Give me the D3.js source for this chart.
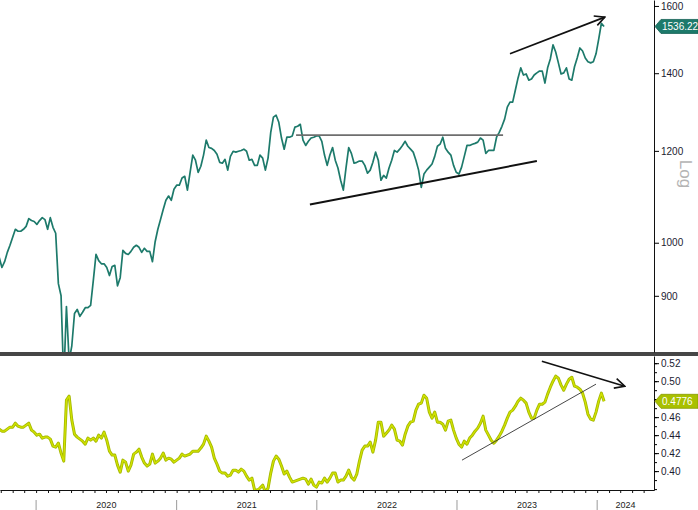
<!DOCTYPE html>
<html>
<head>
<meta charset="utf-8">
<script src="https://cdn.jsdelivr.net/npm/d3@7/dist/d3.min.js"></script>
<style>
  body { margin: 0; background: #fff; }
  svg { display: block; font-family: "Liberation Sans", Arial, sans-serif; }
</style>
</head>
<body>
<svg id="chart" width="698" height="510"></svg>
<script>
// weekly closes, first week below
const firstWeek = "2019-09-27";

const price = [
  971, 952, 963, 981, 995, 1011, 1027, 1023, 1023, 1027,
  1033, 1049, 1045, 1043, 1037, 1045, 1051, 1047, 1027, 1051,
  1031, 1019, 922, 900, 760, 881, 791, 815, 869, 876,
  864, 871, 879, 879, 883, 928, 977, 965, 959, 959,
  952, 937, 954, 956, 918, 933, 985, 979, 977, 983,
  991, 995, 991, 981, 989, 983, 983, 963, 1002, 1027,
  1047, 1068, 1088, 1097, 1088, 1112, 1121, 1121, 1137, 1141,
  1110, 1150, 1190, 1178, 1150, 1164, 1190, 1226, 1208, 1206,
  1201, 1192, 1173, 1171, 1180, 1155, 1187, 1199, 1197, 1199,
  1201, 1204, 1199, 1178, 1180, 1166, 1166, 1190, 1183, 1155,
  1183, 1245, 1283, 1288, 1270, 1231, 1204, 1233, 1233, 1236,
  1258, 1260, 1265, 1226, 1213, 1223, 1231, 1233, 1236, 1236,
  1223, 1190, 1166, 1190, 1208, 1178, 1160, 1132, 1110, 1160,
  1208, 1194, 1171, 1173, 1176, 1176, 1166, 1148, 1155, 1173,
  1197, 1178, 1132, 1143, 1137, 1160, 1178, 1201, 1197, 1204,
  1213, 1223, 1211, 1204, 1197, 1178, 1155, 1116, 1146, 1155,
  1162, 1169, 1187, 1211, 1216, 1233, 1206, 1197, 1190, 1166,
  1150, 1146, 1162, 1187, 1213, 1213, 1216, 1218, 1221, 1231,
  1226, 1194, 1201, 1201, 1201, 1233, 1245, 1260, 1278, 1309,
  1322, 1322, 1354, 1387, 1415, 1395, 1398, 1381, 1384, 1395,
  1401, 1406, 1406, 1373, 1415, 1440, 1481, 1460, 1429, 1398,
  1401, 1415, 1384, 1381, 1418, 1443, 1472, 1463, 1443, 1432,
  1429, 1432, 1455, 1498, 1546, 1536.22
];

const ratio = [
  0.4467, 0.4444, 0.4444, 0.4467, 0.4489, 0.4489, 0.4533, 0.4500, 0.4489, 0.4489,
  0.4511, 0.4533, 0.4456, 0.4433, 0.4400, 0.4411, 0.4367, 0.4378, 0.4378, 0.4356,
  0.4278, 0.4267, 0.4311, 0.4200, 0.4111, 0.4789, 0.4833, 0.4567, 0.4411, 0.4378,
  0.4356, 0.4333, 0.4300, 0.4367, 0.4344, 0.4367, 0.4333, 0.4400, 0.4367, 0.4433,
  0.4344, 0.4222, 0.4178, 0.4178, 0.4067, 0.3989, 0.4122, 0.4100, 0.4000, 0.4067,
  0.4189, 0.4211, 0.4244, 0.4156, 0.4089, 0.4056, 0.4078, 0.4189, 0.4089, 0.4111,
  0.4144, 0.4200, 0.4122, 0.4144, 0.4133, 0.4100, 0.4122, 0.4144, 0.4189, 0.4167,
  0.4178, 0.4189, 0.4222, 0.4222, 0.4222, 0.4256, 0.4300, 0.4389, 0.4333, 0.4267,
  0.4144, 0.4078, 0.4000, 0.3978, 0.3978, 0.3944, 0.3956, 0.4011, 0.4011, 0.3989,
  0.4022, 0.4000, 0.3944, 0.3900, 0.3922, 0.3789, 0.3789, 0.3811, 0.3844, 0.3767,
  0.3811, 0.3978, 0.4111, 0.4167, 0.4133, 0.4056, 0.3967, 0.4000, 0.3933, 0.3878,
  0.3889, 0.3900, 0.3911, 0.3922, 0.3911, 0.3856, 0.3911, 0.3844, 0.3822, 0.3878,
  0.3867, 0.3922, 0.3878, 0.3922, 0.3978, 0.3978, 0.3878, 0.3900, 0.3900, 0.3944,
  0.4011, 0.3933, 0.3900, 0.3967, 0.4111, 0.4233, 0.4278, 0.4278, 0.4322, 0.4211,
  0.4344, 0.4544, 0.4544, 0.4389, 0.4422, 0.4456, 0.4511, 0.4467, 0.4344, 0.4333,
  0.4289, 0.4411, 0.4500, 0.4544, 0.4556, 0.4678, 0.4744, 0.4756, 0.4844, 0.4811,
  0.4656, 0.4589, 0.4656, 0.4544, 0.4544, 0.4522, 0.4456, 0.4556, 0.4567, 0.4456,
  0.4367, 0.4300, 0.4267, 0.4333, 0.4300, 0.4367, 0.4400, 0.4444, 0.4478, 0.4533,
  0.4611, 0.4456, 0.4400, 0.4344, 0.4311, 0.4344, 0.4389, 0.4444, 0.4511, 0.4589,
  0.4656, 0.4678, 0.4722, 0.4778, 0.4811, 0.4789, 0.4756, 0.4656, 0.4589, 0.4589,
  0.4678, 0.4744, 0.4744, 0.4767, 0.4856, 0.4933, 0.5000, 0.5056, 0.5033, 0.4956,
  0.4900, 0.4967, 0.5022, 0.5044, 0.4944, 0.4933, 0.4911, 0.4867, 0.4767, 0.4633,
  0.4578, 0.4567, 0.4656, 0.4778, 0.4867, 0.4776
];

const priceTicks = [900, 1000, 1200, 1400, 1600];
const ratioTicks = [0.40, 0.42, 0.44, 0.46, 0.48, 0.50, 0.52];
const years = [2020, 2021, 2022, 2023, 2024];
const lastPrice = "1536.22";
const lastRatio = "0.4776";

// hand drawn lines on the chart, as [date, value]
const resistance = [["2021-11-08", 1238], ["2023-05-01", 1238]];
const support = [["2021-12-14", 1079], ["2023-07-28", 1176]];
const priceArrow = [["2023-05-19", 1455], ["2024-01-21", 1565]];
const ratioTrend = [["2023-01-14", 0.4122], ["2023-12-29", 0.4967]];
const ratioArrow = [["2023-08-10", 0.5222], ["2024-03-13", 0.4944]];

const W = 698, H = 510;
const plotRight = 654;
const topBottom = 352, lowTop = 356, lowBottom = 490;

const parse = d3.timeParse("%Y-%m-%d");
const start = parse(firstWeek);
const dates = price.map((_, i) => d3.timeDay.offset(start, 7 * i));

const x = d3.scaleTime()
  .domain([new Date(2019, 8, 29), new Date(2024, 4, 28)])
  .range([0, plotRight]);
const yTop = d3.scaleLog().domain([805, 1619]).range([topBottom, 0]);
const yLow = d3.scaleLinear().domain([0.379, 0.528]).range([lowBottom, lowTop]);

const svg = d3.select("#chart");

const defs = svg.append("defs");
defs.append("clipPath").attr("id", "clipTop")
  .append("rect").attr("x", 0).attr("y", 0).attr("width", plotRight).attr("height", topBottom);
defs.append("clipPath").attr("id", "clipLow")
  .append("rect").attr("x", 0).attr("y", lowTop).attr("width", plotRight).attr("height", lowBottom - lowTop);
defs.append("marker")
  .attr("id", "arrow")
  .attr("viewBox", "0 0 12 12")
  .attr("refX", 11).attr("refY", 6)
  .attr("markerWidth", 12).attr("markerHeight", 12)
  .attr("markerUnits", "userSpaceOnUse")
  .attr("orient", "auto")
  .append("path")
  .attr("d", "M1,1 L11,6 L1,11")
  .attr("fill", "none")
  .attr("stroke", "#111")
  .attr("stroke-width", 1.6);

// top panel: price, log scale
const topLine = d3.line().x((d, i) => x(dates[i])).y(d => yTop(d));
svg.append("path")
  .attr("clip-path", "url(#clipTop)")
  .attr("d", topLine(price))
  .attr("fill", "none")
  .attr("stroke", "#1d7a6b")
  .attr("stroke-width", 1.7)
  .attr("stroke-linejoin", "round");

const annTop = d3.line().x(d => x(parse(d[0]))).y(d => yTop(d[1]));
svg.append("path").attr("d", annTop(resistance))
  .attr("stroke", "#6e6e6e").attr("stroke-width", 1.6).attr("fill", "none");
svg.append("path").attr("d", annTop(support))
  .attr("stroke", "#111").attr("stroke-width", 2).attr("fill", "none");
svg.append("path").attr("d", annTop(priceArrow))
  .attr("stroke", "#111").attr("stroke-width", 1.7).attr("fill", "none")
  .attr("marker-end", "url(#arrow)");

// bottom panel: ratio
const lowLine = d3.line().x((d, i) => x(dates[i])).y(d => yLow(d));
const lowG = svg.append("g").attr("clip-path", "url(#clipLow)");
lowG.append("path")
  .attr("d", lowLine(ratio))
  .attr("fill", "none")
  .attr("stroke", "#a4b800")
  .attr("stroke-width", 3)
  .attr("stroke-linejoin", "round");
lowG.append("path")
  .attr("d", lowLine(ratio))
  .attr("fill", "none")
  .attr("stroke", "#d2e300")
  .attr("stroke-width", 1.3)
  .attr("stroke-linejoin", "round");

const annLow = d3.line().x(d => x(parse(d[0]))).y(d => yLow(d[1]));
svg.append("path").attr("d", annLow(ratioTrend))
  .attr("stroke", "#333").attr("stroke-width", 0.9).attr("fill", "none");
svg.append("path").attr("d", annLow(ratioArrow))
  .attr("stroke", "#111").attr("stroke-width", 1.6).attr("fill", "none")
  .attr("marker-end", "url(#arrow)");

// panel separator
svg.append("rect")
  .attr("x", 0).attr("y", topBottom).attr("width", W).attr("height", lowTop - topBottom)
  .attr("fill", "#464646");

// right axes
const axisTop = svg.append("g")
  .attr("transform", `translate(${plotRight},0)`)
  .call(d3.axisRight(yTop).tickValues(priceTicks).tickSize(5).tickSizeOuter(0).tickFormat(d3.format("d")));
axisTop.select(".domain").attr("stroke", "#111");

const minorLow = d3.range(0.38, 0.525, 0.01);
svg.append("g")
  .attr("transform", `translate(${plotRight},0)`)
  .call(d3.axisRight(yLow).tickValues(minorLow).tickSize(3).tickFormat(""))
  .call(g => g.select(".domain").remove());

// the 0.48 label sits under the last-value tag, so it is left blank
const lastR = ratio[ratio.length - 1];
const axisLow = svg.append("g")
  .attr("transform", `translate(${plotRight},0)`)
  .call(d3.axisRight(yLow).tickValues(ratioTicks).tickSize(5).tickSizeOuter(0)
    .tickFormat(d => Math.abs(d - lastR) < 0.008 ? "" : d3.format(".2f")(d)));
axisLow.select(".domain").attr("stroke", "#111");

svg.selectAll(".tick text")
  .attr("font-size", 10)
  .attr("font-family", "'Liberation Sans', Arial, sans-serif")
  .attr("fill", "#1b1b30")
  .attr("x", 7);

// "Log" label
svg.append("text")
  .attr("transform", "translate(680,174) rotate(90)")
  .attr("text-anchor", "middle")
  .attr("font-size", 17)
  .attr("fill", "#b4b4b4")
  .text("Log");

// value tags
function tag(yy, fill, label) {
  const g = svg.append("g");
  g.append("path")
    .attr("d", `M${plotRight + 1},${yy} L${plotRight + 7},${yy - 7} L${W},${yy - 7} L${W},${yy + 7} L${plotRight + 7},${yy + 7} Z`)
    .attr("fill", fill)
    .attr("stroke", d3.color(fill).darker(0.6))
    .attr("stroke-width", 0.8);
  g.append("text")
    .attr("x", plotRight + 8).attr("y", yy + 3.6)
    .attr("font-size", 10)
    .attr("fill", "#fff")
    .text(label);
}
tag(yTop(price[price.length - 1]), "#1d7a6b", lastPrice);
tag(yLow(lastR), "#a9c000", lastRatio);

// bottom time axis
const xAxis = svg.append("g")
  .attr("transform", `translate(0,${lowBottom})`)
  .call(d3.axisBottom(x).ticks(d3.timeMonth.every(1)).tickSize(3).tickSizeOuter(0).tickFormat(""));
xAxis.select(".domain").attr("stroke", "#111");
xAxis.selectAll(".tick line").attr("stroke", "#111");

const end = x.domain()[1];
years.forEach(yr => {
  const y0 = new Date(yr, 0, 1);
  const y1 = d3.min([new Date(yr + 1, 0, 1), end]);
  svg.append("line")
    .attr("x1", x(y0)).attr("x2", x(y0))
    .attr("y1", 500).attr("y2", H)
    .attr("stroke", "#9a9a9a").attr("stroke-width", 1);
  svg.append("text")
    .attr("x", (x(y0) + x(y1)) / 2)
    .attr("y", 508)
    .attr("text-anchor", "middle")
    .attr("font-size", 9)
    .attr("fill", "#222")
    .text(yr);
});
</script>
</body>
</html>
